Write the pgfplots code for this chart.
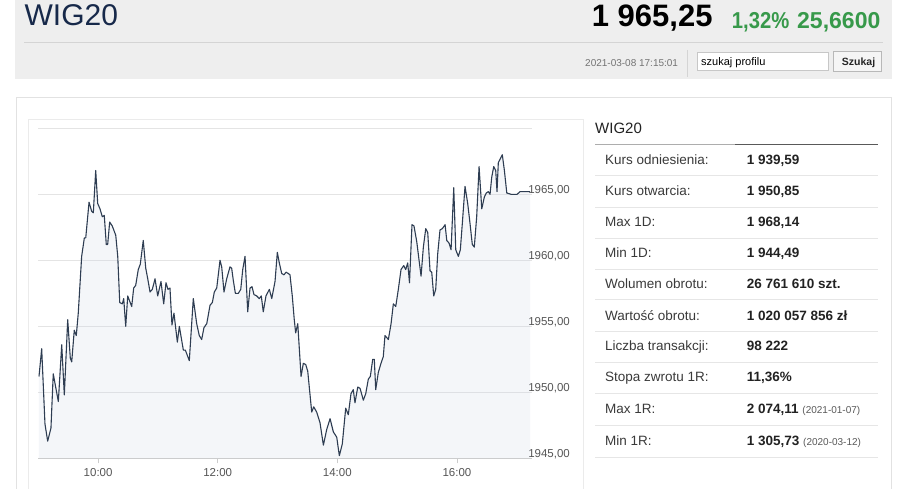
\documentclass[border=0pt]{standalone}
\usepackage{fontspec}
\setmainfont{Liberation Sans}
\usepackage{pgfplots}
\pgfplotsset{compat=1.18}
\usepackage{pgfplotstable}
\definecolor{hdrgray}{HTML}{EEEEEE}
\definecolor{hdrsep}{HTML}{D4D4D4}
\definecolor{navy}{HTML}{17294A}
\definecolor{upgreen}{HTML}{37994A}
\definecolor{panelline}{HTML}{E2E2E2}
\definecolor{boxline}{HTML}{EBEBEB}
\definecolor{gridc}{HTML}{E4E4E4}
\definecolor{linec}{HTML}{2E3D52}
\definecolor{fillc}{HTML}{C8D4E4}
\definecolor{tickc}{HTML}{555555}
\definecolor{rowline}{HTML}{E6E6E6}
\definecolor{labc}{HTML}{3A3A3A}
\definecolor{valc}{HTML}{222222}
\newcommand\fs[1]{\fontsize{#1bp}{#1bp}\selectfont}

\pgfplotstableread{
m v
0.7 1951.2
3.4 1953.3
6.7 1947.6
9.4 1946.3
12.7 1947.3
15.0 1951.4
20.1 1949.3
23.5 1953.6
26.1 1949.8
29.5 1955.5
32.1 1952.6
33.5 1952.3
36.1 1954.7
38.1 1954.3
40.1 1956.0
43.5 1960.3
46.2 1961.7
47.6 1961.7
50.9 1964.4
53.6 1963.7
55.2 1963.6
57.6 1966.8
59.6 1964.3
61.9 1963.9
64.2 1963.3
66.2 1963.4
68.2 1961.2
69.6 1961.2
71.6 1962.9
74.2 1962.6
77.7 1961.9
79.7 1960.3
81.7 1956.8
84.3 1956.7
85.7 1957.1
87.7 1955.0
89.7 1957.3
93.7 1956.5
95.7 1957.9
97.7 1958.1
100.3 1959.3
102.3 1959.7
105.3 1961.5
107.8 1959.4
109.8 1958.6
112.1 1957.6
114.4 1957.8
117.1 1958.6
119.8 1957.3
123.1 1958.4
125.8 1956.7
128.1 1958.3
130.1 1957.8
132.1 1957.9
134.1 1955.1
136.1 1956.0
139.5 1953.8
141.5 1955.0
145.5 1953.2
147.5 1953.2
151.5 1952.4
155.5 1957.1
158.9 1955.2
161.5 1954.3
163.9 1954.0
166.2 1954.9
169.0 1955.2
172.3 1956.6
174.6 1956.8
176.6 1957.6
179.0 1957.9
182.3 1960.0
184.0 1959.5
186.3 1957.6
189.0 1958.6
192.3 1959.5
194.0 1959.4
195.6 1958.5
197.7 1957.5
200.7 1957.5
203.1 1957.8
205.1 1959.3
207.4 1960.3
210.1 1956.1
212.4 1957.9
214.4 1958.0
216.4 1957.4
219.1 1957.3
221.7 1957.1
223.7 1957.3
225.7 1956.1
228.4 1957.3
231.8 1957.8
234.2 1957.1
237.5 1958.4
239.8 1960.6
241.8 1959.8
244.2 1959.0
246.5 1958.9
248.5 1959.1
250.8 1959.0
252.5 1958.9
254.8 1957.3
256.8 1955.5
258.2 1954.5
260.3 1955.2
263.6 1951.2
265.9 1952.2
268.3 1952.1
270.3 1951.6
274.3 1948.5
276.3 1948.9
279.3 1948.5
282.6 1947.7
286.0 1946.0
289.4 1947.2
292.7 1948.0
296.0 1947.0
299.4 1946.6
302.0 1945.2
305.0 1946.1
308.4 1948.8
311.0 1948.3
313.7 1949.9
316.0 1950.2
317.7 1949.2
320.5 1950.4
322.8 1950.3
326.1 1949.4
328.5 1949.9
331.1 1951.0
333.1 1951.2
335.5 1952.5
337.1 1952.5
338.5 1950.2
341.1 1951.5
343.8 1952.2
346.1 1952.7
347.8 1954.3
351.2 1954.0
353.9 1955.2
356.2 1956.7
358.6 1956.5
361.2 1957.8
363.9 1959.3
366.6 1959.6
368.6 1959.3
370.6 1959.8
372.4 1958.3
374.9 1962.7
376.9 1962.6
379.7 1961.4
382.0 1960.0
384.0 1958.8
386.3 1961.0
388.7 1962.4
390.7 1962.1
393.0 1959.2
394.7 1959.1
396.7 1957.3
398.7 1957.8
400.7 1960.5
403.0 1962.3
405.4 1962.4
408.1 1962.7
409.8 1961.5
412.1 1961.3
414.1 1960.8
416.8 1965.5
418.8 1960.8
421.4 1960.3
423.4 1960.8
425.4 1962.8
428.1 1965.6
430.8 1964.3
433.1 1962.8
435.4 1961.2
437.4 1961.0
439.8 1963.3
442.2 1967.1
444.9 1963.9
447.5 1964.8
449.5 1965.1
451.5 1965.2
453.2 1965.0
454.9 1966.3
456.9 1967.1
458.9 1966.8
460.2 1965.2
461.5 1967.4
465.5 1968.0
467.6 1966.8
470.0 1965.1
474.3 1965.0
480.3 1965.0
483.3 1965.2
493.4 1965.2
}\wigdata

\begin{document}
\begin{tikzpicture}[x=1bp,y=1bp]
\useasboundingbox (0,0) rectangle (911,-489);
\fill[white] (0,0) rectangle (911,-489);
% header
\fill[hdrgray] (15,0) rectangle (892,-79);
\draw[hdrsep, line width=1bp] (24.4,-42.3) -- (882.6,-42.3);
\node[anchor=base west, inner sep=0, text=navy, font=\fs{30}] at (24.4,-25.5) {WIG20};
\node[anchor=base west, inner sep=0, text=black, font=\fs{31}\bfseries] at (591.7,-26.7) {1 965,25};
\node[anchor=base west, inner sep=0, text=upgreen, font=\fs{23}\bfseries] at (731.7,-28.3) {\scalebox{0.88}[1]{1,32\%}};
\node[anchor=base west, inner sep=0, text=upgreen, font=\fs{23}\bfseries] at (797,-28.3) {25,6600};
\node[anchor=base west, inner sep=0, text=black!55, font=\fs{10}] at (585,-66.3) {2021-03-08 17:15:01};
\draw[hdrsep] (686.7,-50) -- (686.7,-76.7);
\draw[draw=black!22, fill=white] (697.3,-52.7) rectangle (828.3,-70.7);
\node[anchor=base west, inner sep=0, text=black, font=\fs{11}] at (701,-65.7) {szukaj profilu};
\draw[draw=black!28, fill=black!4] (833.3,-51.7) rectangle (880.7,-71);
\node[anchor=base west, inner sep=0, text=black!85, font=\fs{10.5}\bfseries] at (841.7,-65.5) {Szukaj};
% panel
\draw[panelline] (16,-489) -- (16,-97.7) -- (890.7,-97.7) -- (890.7,-489);
\draw[boxline] (28.3,-489) -- (28.3,-119.3) -- (583,-119.3) -- (583,-489);
% chart
\begin{axis}[
  at={(38.3bp,-458.3bp)}, anchor=south west,
  scale only axis, width=493.4bp, height=330bp,
  xmin=0, xmax=495, ymin=1945, ymax=1970,
  axis x line*=bottom, axis y line*=right,
  x axis line style={draw=black!20},
  y axis line style={draw=none},
  ymajorgrids, grid style={gridc, line width=1bp},
  xtick={60,180,300,420},
  xticklabels={10:00,12:00,14:00,16:00},
  ytick={1945,1950,1955,1960,1965,1970},
  yticklabels={{1945,00},{1950,00},{1955,00},{1960,00},{1965,00},{}},
  xtick style={draw=black!20, line width=0.8bp},
  xtick align=outside, major tick length=5bp,
  ytick style={draw=none},
  /pgf/number format/assume math mode=true,
  tick label style={font=\fs{11.5}, text=tickc, inner sep=0},
  xticklabel style={anchor=north, yshift=-4.6bp},
  yticklabel style={anchor=west, xshift=-3.6bp, yshift=4.2bp},
  clip=false,
]
\addplot[draw=none, fill=fillc, fill opacity=0.2] table[x=m, y=v] {\wigdata} \closedcycle;
\addplot[linec, line width=1.1bp, line join=round] table[x=m, y=v] {\wigdata};
\end{axis}
% table
\node[anchor=base west, inner sep=0, text=valc, font=\fs{15}] at (595,-133.5) {WIG20};
\draw[black!32, line width=1bp] (595,-145) -- (735,-145);
\draw[black!65, line width=1bp] (735,-145) -- (877.7,-145);
\foreach \s in {176,207.3,238.3,269.3,300,331.7,362.3,393.3,425,457.3}
  \draw[rowline, line width=1bp] (595,-\s) -- (877.7,-\s);
\tikzset{lab/.style={anchor=base west, inner sep=0, text=labc, font=\fs{13.5}},
         val/.style={anchor=base west, inner sep=0, text=valc, font=\fs{13.5}\bfseries}}
\node[lab] at (605,-164.5) {Kurs odniesienia:};
\node[val] at (746.7,-164.5) {1 939,59};
\node[lab] at (605,-195.8) {Kurs otwarcia:};
\node[val] at (746.7,-195.8) {1 950,85};
\node[lab] at (605,-226.8) {Max 1D:};
\node[val] at (746.7,-226.8) {1 968,14};
\node[lab] at (605,-257.8) {Min 1D:};
\node[val] at (746.7,-257.8) {1 944,49};
\node[lab] at (605,-288.5) {Wolumen obrotu:};
\node[val] at (746.7,-288.5) {26 761 610 szt.};
\node[lab] at (605,-320.2) {Wartość obrotu:};
\node[val] at (746.7,-320.2) {1 020 057 856 zł};
\node[lab] at (605,-350.8) {Liczba transakcji:};
\node[val] at (746.7,-350.8) {98 222};
\node[lab] at (605,-381.8) {Stopa zwrotu 1R:};
\node[val] at (746.7,-381.8) {11,36\%};
\node[lab] at (605,-413.5) {Max 1R:};
\node[val] at (746.7,-413.5) {2 074,11 {\fs{10}\mdseries\color{black!65}(2021-01-07)}};
\node[lab] at (605,-445.8) {Min 1R:};
\node[val] at (746.7,-445.8) {1 305,73 {\fs{10}\mdseries\color{black!65}(2020-03-12)}};
\end{tikzpicture}
\end{document}
